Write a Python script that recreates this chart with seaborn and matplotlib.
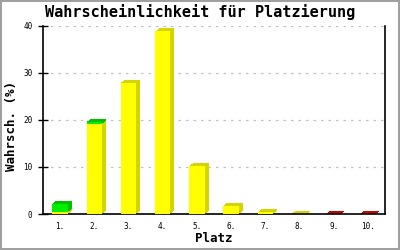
import matplotlib
matplotlib.use("Agg")
import matplotlib.pyplot as plt
import matplotlib.transforms as mtransforms
import seaborn as sns
import numpy as np

places = ["1.", "2.", "3.", "4.", "5.", "6.", "7.", "8.", "9.", "10."]
yellow_vals = [0.4, 19.1, 27.9, 38.8, 10.2, 1.8, 0.4, 0.1, 0.0, 0.0]
green_vals = [1.8, 0.5, 0.0, 0.0, 0.0, 0.0, 0.0, 0.0, 0.0, 0.0]
red_vals = [0.0, 0.0, 0.0, 0.0, 0.0, 0.0, 0.0, 0.0, 0.1, 0.1]
yticks = [0, 10, 20, 30, 40]

title = "Wahrscheinlichkeit für Platzierung"
xlabel = "Platz"
ylabel = "Wahrsch. (%)"

sns.set_theme(style="white")
plt.rcParams["font.family"] = ["DejaVu Sans Mono", "DejaVu Sans"]
plt.rcParams["text.color"] = "black"
plt.rcParams["axes.labelcolor"] = "black"
plt.rcParams["xtick.color"] = "black"
plt.rcParams["ytick.color"] = "black"

fig = plt.figure(figsize=(4, 2.5), dpi=100)
fig.patch.set_facecolor("white")
fig.patch.set_edgecolor("#a0a0a0")
fig.patch.set_linewidth(2.8)
ax = fig.add_axes([43 / 400, 1 - 214 / 250, 342 / 400, (214 - 25.7) / 250])

segments = [
    (yellow_vals, "#ffff00", "#d4d400"),
    (green_vals, "#00ee00", "#00c000"),
    (red_vals, "#ee0000", "#c80000"),
]
width = 0.45
bottoms = np.zeros(len(places))
seg_bottoms = []
for vals, _, _ in segments:
    seg_bottoms.append(bottoms.copy())
    bottoms = bottoms + np.array(vals)

# depth (3D) faces via pixel-shifted copies
steps = 8
for (vals, front, side), b in zip(segments, seg_bottoms):
    v = np.array(vals)
    mask = v > 0
    if not mask.any():
        continue
    for k in range(steps, 0, -1):
        dx = 4.0 * k / steps / 100.0
        dy = 3.0 * k / steps / 100.0
        tr = ax.transData + mtransforms.ScaledTranslation(dx, dy, fig.dpi_scale_trans)
        ax.bar(np.arange(len(places))[mask], v[mask], width=width, bottom=b[mask],
               color=side, linewidth=0, antialiased=False, transform=tr, zorder=2)

# front faces
for (vals, front, side), b in zip(segments, seg_bottoms):
    v = np.array(vals)
    sns.barplot(x=places, y=v, color=front, width=width, bottom=b, ax=ax,
                linewidth=0, saturation=1, zorder=3, antialiased=False)

ax.set_xlim(-0.5, len(places) - 0.5)
ax.set_ylim(0, 40)
ax.set_yticks(yticks)
ax.set_yticklabels([str(t) for t in yticks])
ax.yaxis.grid(True, color="#c0c0c0", linestyle=(0, (2, 4)), linewidth=0.9)
ax.xaxis.grid(False)
ax.set_axisbelow(True)

for s in ["left", "bottom", "right"]:
    ax.spines[s].set_visible(True)
    ax.spines[s].set_color("black")
    ax.spines[s].set_linewidth(1.2)
ax.spines["top"].set_visible(False)

ax.tick_params(axis="y", direction="inout", length=7, width=1, color="black",
               labelsize=5.5, pad=4, left=True, labelcolor="black")
ax.tick_params(axis="x", length=0, labelsize=5.5, pad=6, labelcolor="black")
ax.set_xlabel("")
ax.set_ylabel("")

fig.text(200 / 400, 1 - 12 / 250, title, ha="center", va="center",
         fontsize=11, fontweight="bold", color="black")
fig.text(214 / 400, 1 - 239 / 250, xlabel, ha="center", va="center",
         fontsize=9, fontweight="bold", color="black")
fig.text(12 / 400, 1 - 126 / 250, ylabel, ha="center", va="center",
         rotation=90, fontsize=9, fontweight="bold", color="black")

fig.savefig("out.png", dpi=100)
